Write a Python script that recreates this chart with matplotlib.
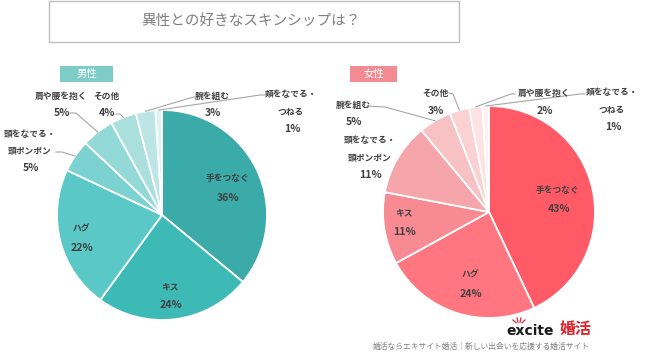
import numpy as np
import matplotlib
matplotlib.use("Agg")
import matplotlib.pyplot as plt
from matplotlib.patches import Rectangle

plt.rcParams['font.family'] = ['Noto Sans CJK JP', 'DejaVu Sans']

W, H = 650, 359

TITLE = "異性との好きなスキンシップは？"
FOOTER = "婚活ならエキサイト婚活｜新しい出会いを応援する婚活サイト"

male_labels = ["手をつなぐ", "キス", "ハグ", "頭をなでる・\n頭ポンポン", "肩や腰を抱く",
               "その他", "腕を組む", "頬をなでる・\nつねる"]
male_values = [36, 24, 22, 5, 5, 4, 3, 1]
male_colors = ["#3AABA8", "#3DBAB6", "#5AC8C6", "#7CD2D0", "#92D9D7",
               "#AADFDE", "#BCE6E5", "#DDF2F1"]

female_labels = ["手をつなぐ", "ハグ", "キス", "頭をなでる・\n頭ポンポン", "腕を組む",
                 "その他", "肩や腰を抱く", "頬をなでる・\nつねる"]
female_values = [43, 24, 11, 11, 5, 3, 2, 1]
female_colors = ["#FF5A66", "#FF7680", "#F78A92", "#F6A5AA", "#F8C2C5",
                 "#FAD2D4", "#FCE2E3", "#FEF1F1"]

# layout (pixel coords, y down): label block (x, first line y, line gap)
male_txt = [(227, 178, 20), (170, 287, 18), (81, 229, 19), (30, 134, 17),
            (61, 96, 17), (106, 96, 17), (212, 96, 17), (291, 95, 17)]
female_txt = [(558, 190, 19), (470, 275, 19), (404, 213, 19), (370, 141, 17),
              (353, 105, 17), (435, 93, 18), (544, 93, 18), (612, 93, 17)]
# leader start points for small slices
male_lead = [None, None, None, [(56, 152), (62, 152)], [(70, 113), (76, 113)],
             [(116, 114), (120, 114)], [(195, 97), (190, 98)], [(266, 95), (260, 95)]]
female_lead = [None, None, None, None, [(367, 106), (385, 107)],
               [(449, 93), (453, 94)], [(515, 94), (511, 94)], [(585, 94), (580, 94)]]


def Y(y):
    return H - y


fig = plt.figure(figsize=(6.5, 3.59), dpi=100)
ax = fig.add_axes([0, 0, 1, 1])
ax.set_xlim(0, W)
ax.set_ylim(0, H)
ax.set_aspect("equal")
ax.axis("off")

# title box
ax.add_patch(Rectangle((48.5, Y(41.5)), 410, 41, fill=False, ec="#BFBFBF", lw=1.0))
ax.text(251, Y(21), TITLE, ha="center", va="center", fontsize=10.5, color="#7F7F7F")


def draw_pie(vals, labels, colors, cx, cy, r, txt, lead, tag, tag_box, tag_color):
    wedges, _ = ax.pie(vals, colors=colors, startangle=90, counterclock=False,
                       center=(cx, Y(cy)), radius=r, frame=True,
                       wedgeprops=dict(edgecolor="white", linewidth=1.3))
    for i, (lab, v) in enumerate(zip(labels, vals)):
        x, y0, gap = txt[i]
        lines = lab.split("\n")
        for k, s in enumerate(lines):
            ax.text(x, Y(y0 + k * gap), s, ha="center", va="center",
                    fontsize=6.3, fontweight="bold", color="#404040")
        ax.text(x + 1, Y(y0 + len(lines) * gap), f"{v}%", ha="center", va="center",
                fontsize=7.6, fontweight="bold", color="#404040")
        if lead[i] is not None:
            w = wedges[i]
            th = np.deg2rad((w.theta1 + w.theta2) / 2)
            ex, ey = cx + r * np.cos(th), Y(cy) + r * np.sin(th)
            xs = [p[0] for p in lead[i]] + [ex]
            ys = [Y(p[1]) for p in lead[i]] + [ey]
            ax.plot(xs, ys, color="#A6A6A6", lw=0.8)
    bx, by, bw, bh = tag_box
    ax.add_patch(Rectangle((bx, Y(by + bh)), bw, bh, color=tag_color, lw=0))
    ax.text(bx + bw / 2, Y(by + bh / 2), tag, ha="center", va="center",
            fontsize=7.5, color="white")


draw_pie(male_values, male_labels, male_colors, 162, 215, 105, male_txt, male_lead,
         "男性", (60, 66, 53, 16), "#7ECCC8")
draw_pie(female_values, female_labels, female_colors, 489, 212, 106, female_txt, female_lead,
         "女性", (350, 66, 47, 16), "#F48B93")
ax.set_xlim(0, W)
ax.set_ylim(0, H)

# footer logo
ax.text(530, Y(331), "excite", ha="center", va="center", fontsize=10,
        fontweight="bold", color="#1A1A1A", family="DejaVu Sans")
ax.text(575, Y(329), "婚活", ha="center", va="center", fontsize=11.5,
        fontweight="bold", color="#D9282F")
for dx, dy in [(-6, -4), (-2, -6), (2, -6), (6, -4)]:
    ax.plot([519 + dx * 0.5, 519 + dx], [Y(324 + dy * 0.3), Y(324 + dy)],
            color="#D9282F", lw=0.9)
ax.text(481, Y(347), FOOTER, ha="center", va="center", fontsize=5.6, color="#7F7F7F")

fig.savefig("out.png", dpi=100, facecolor="white")
